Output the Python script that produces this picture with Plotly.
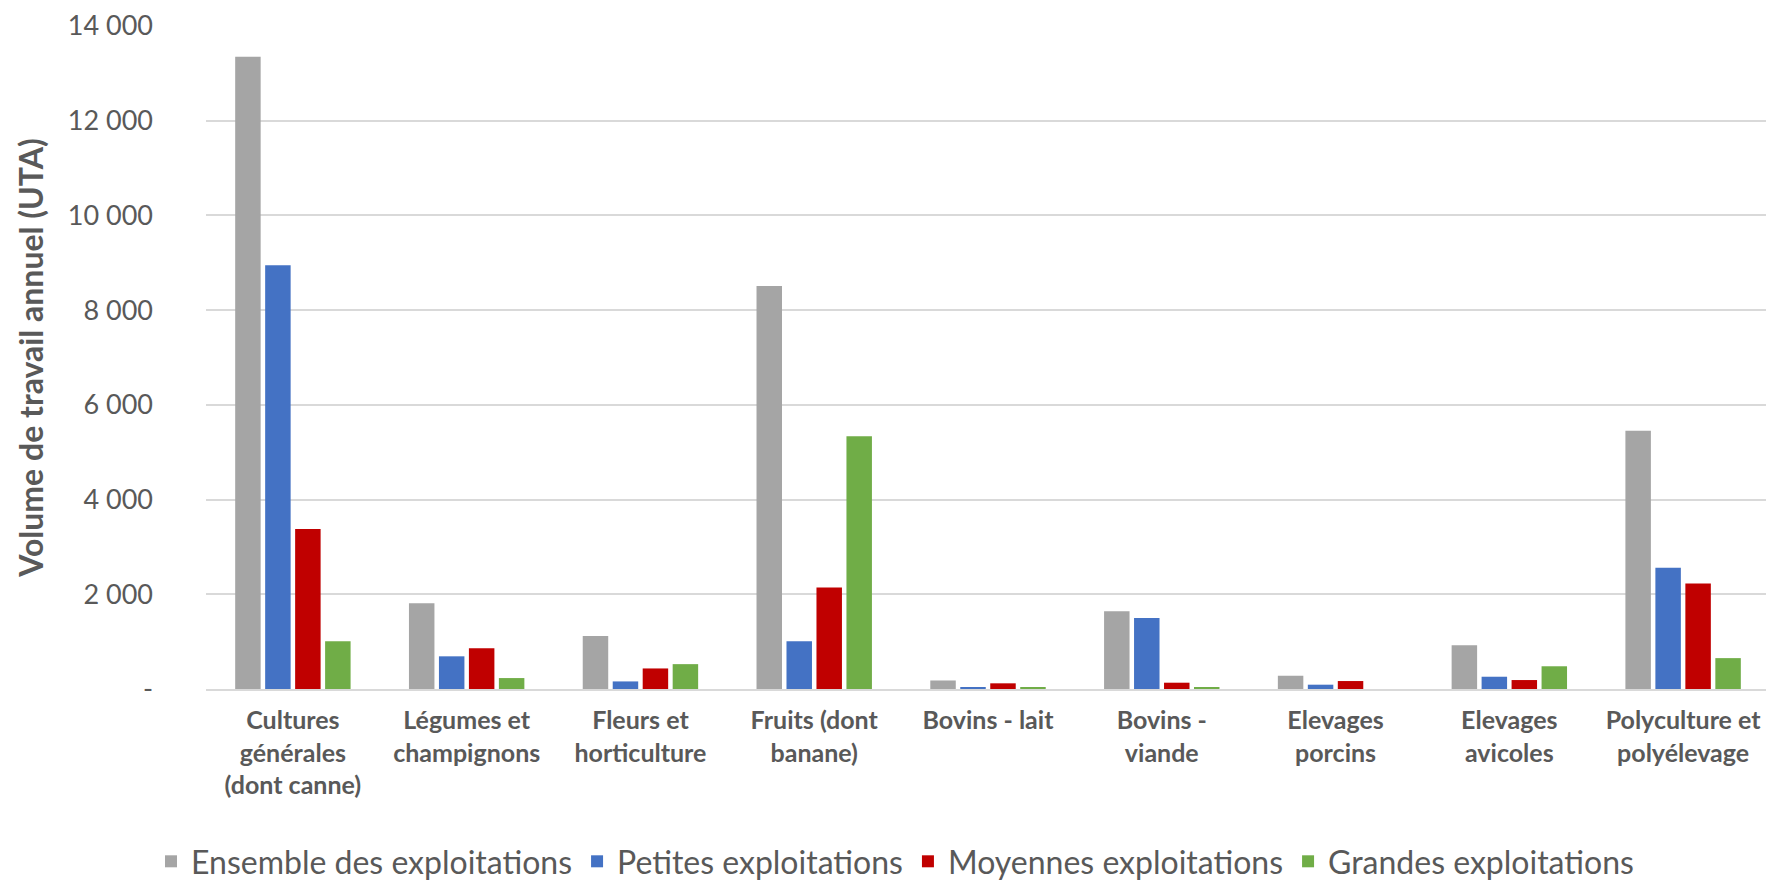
import plotly.graph_objects as go

categories = [
    "Cultures<br>générales<br>(dont canne)",
    "Légumes et<br>champignons",
    "Fleurs et<br>horticulture",
    "Fruits (dont<br>banane)",
    "Bovins - lait",
    "Bovins -<br>viande",
    "Elevages<br>porcins",
    "Elevages<br>avicoles",
    "Polyculture et<br>polyélevage",
]

series_names = [
    "Ensemble des exploitations",
    "Petites exploitations",
    "Moyennes exploitations",
    "Grandes exploitations",
]

ensemble = [13350, 1810, 1120, 8510, 180, 1640, 280, 925, 5455]
petites = [8950, 690, 160, 1010, 30, 1497, 91, 259, 2560]
moyennes = [3380, 862, 434, 2145, 120, 133, 168, 189, 2230]
grandes = [1010, 231, 525, 5335, 42, 25, 0, 480, 652]

colors = ["#A5A5A5", "#4472C4", "#C00000", "#70AD47"]

y_tickvals = [0, 2000, 4000, 6000, 8000, 10000, 12000, 14000]
y_ticktext = ["-", "2 000", "4 000", "6 000", "8 000", "10 000", "12 000", "14 000"]

font_family = "Lato, 'Open Sans', sans-serif"
text_color = "#595959"

fig = go.Figure()
for name, vals, col in zip(series_names, [ensemble, petites, moyennes, grandes], colors):
    fig.add_trace(go.Bar(
        x=categories, y=vals, name=name,
        marker=dict(color=col, line=dict(width=0)),
    ))

fig.update_layout(
    width=1774, height=881,
    margin=dict(l=198, r=12, t=18, b=200),
    paper_bgcolor="white", plot_bgcolor="white",
    barmode="group", bargap=0.31, bargroupgap=0.15,
    font=dict(family=font_family, color=text_color),
    legend=dict(
        orientation="h", xref="container", yref="container",
        x=0.5, y=-0.006, xanchor="center", yanchor="bottom",
        font=dict(size=32, color=text_color, family=font_family),
        itemwidth=30, traceorder="normal", tracegroupgap=0,
    ),
    showlegend=True,
)

fig.update_xaxes(
    tickfont=dict(size=25, color=text_color, family=font_family, weight="bold"),
    showline=True, linecolor="#D9D9D9", linewidth=2,
    ticks="", showgrid=False, ticklabelstandoff=8, automargin=False,
)
fig.update_yaxes(
    range=[0, 14000.5], tickvals=y_tickvals, ticktext=y_ticktext,
    tickfont=dict(size=27, color=text_color, family=font_family),
    showgrid=True, gridcolor="#D9D9D9", gridwidth=1.5,
    zeroline=False, showline=False, ticks="", ticklabelstandoff=52,
    ticklabeloverflow="allow", automargin=False,
    title=dict(text="Volume de travail annuel (UTA)",
               font=dict(size=32, color=text_color, family=font_family, weight="bold"),
               standoff=14),
)

fig.write_html("out.html")
